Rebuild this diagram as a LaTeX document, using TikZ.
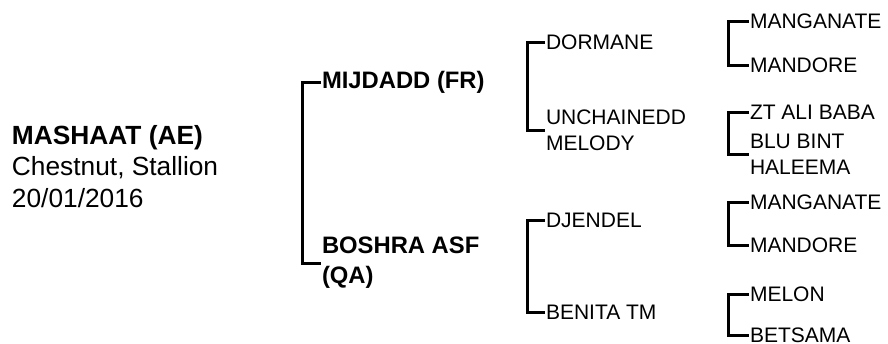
\documentclass[tikz,border=0pt]{standalone}
\usepackage{fontspec}
\setmainfont{Liberation Sans}
\begin{document}
\begin{tikzpicture}[x=1pt,y=-1pt,
  every node/.style={inner sep=0pt,outer sep=0pt,anchor=west,align=left},
  rootname/.style={font=\fontsize{26.3}{31.7}\selectfont},
  gen1/.style={font=\fontsize{23.8}{30}\selectfont\bfseries},
  genn/.style={font=\fontsize{21}{26}\selectfont},
  bracket/.style={draw=black,line width=3pt,line join=miter}]
\useasboundingbox (0,0) rectangle (888,343);
\fill[white] (0,0) rectangle (888,343);
% root
\node[rootname] (root) at (12,166.5) {\textbf{MASHAAT (AE)}\\Chestnut, Stallion\\20/01/2016};
% generation 1
\node[gen1] (sire) at (322,82) {MIJDADD (FR)};
\node[gen1] (dam) at (322,263) {BOSHRA ASF\\(QA)};
% generation 2
\node[genn] (ss) at (546,42) {DORMANE};
\node[genn] (sd) at (546,130) {UNCHAINEDD\\MELODY};
\node[genn] (ds) at (546,220) {DJENDEL};
\node[genn] (dd) at (546,312) {BENITA TM};
% generation 3
\node[genn] (sss) at (750,21) {MANGANATE};
\node[genn] (ssd) at (750,65.5) {MANDORE};
\node[genn] (sds) at (750,112) {ZT ALI BABA};
\node[genn] (sdd) at (750,154) {BLU BINT\\HALEEMA};
\node[genn] (dss) at (750,202) {MANGANATE};
\node[genn] (dsd) at (750,245.5) {MANDORE};
\node[genn] (dds) at (750,294) {MELON};
\node[genn] (ddd) at (750,335) {BETSAMA};
% brackets
\draw[bracket] ([xshift=-1pt]sire.west) -- ++(-19,0) |- ([xshift=-1pt]dam.west);
\draw[bracket] ([xshift=-1pt]ss.west) -- ++(-18,0) |- ([xshift=-1pt]sd.west);
\draw[bracket] ([xshift=-1pt]ds.west) -- ++(-18,0) |- ([xshift=-1pt]dd.west);
\draw[bracket] ([xshift=-1pt]sss.west) -- ++(-21,0) |- ([xshift=-1pt]ssd.west);
\draw[bracket] ([xshift=-1pt]sds.west) -- ++(-21,0) |- ([xshift=-1pt]sdd.west);
\draw[bracket] ([xshift=-1pt]dss.west) -- ++(-21,0) |- ([xshift=-1pt]dsd.west);
\draw[bracket] ([xshift=-1pt]dds.west) -- ++(-21,0) |- ([xshift=-1pt]ddd.west);
\end{tikzpicture}
\end{document}
